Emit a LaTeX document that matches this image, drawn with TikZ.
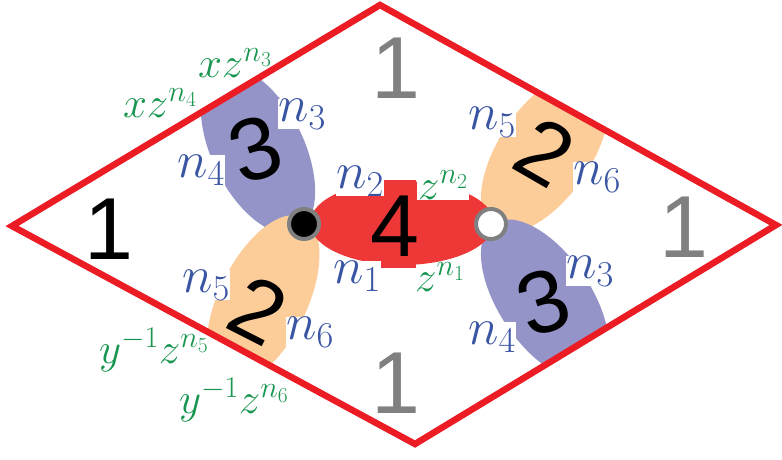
\RequirePackage{fix-cm}
\documentclass[tikz,border=0pt]{standalone}
\usepackage{amsmath}
\usepackage{fontspec}
\newfontfamily\digitfont{Liberation Sans}
\usepackage{tikz}

\definecolor{edgered}{RGB}{236,28,36}
\definecolor{cellred}{RGB}{238,56,56}
\definecolor{cellpurple}{RGB}{148,148,200}
\definecolor{cellorange}{RGB}{253,205,153}
\definecolor{nblue}{RGB}{58,85,164}
\definecolor{zgreen}{RGB}{24,150,80}

\begin{document}
\begin{tikzpicture}[x=1pt,y=-1pt,
  digit/.style={font=\digitfont\fontsize{88}{88}\selectfont, inner sep=0pt},
  nlab/.style={text=nblue, fill=white, inner sep=0pt, font=\fontsize{52}{52}\selectfont},
  zlab/.style={text=zgreen, inner sep=1pt, font=\fontsize{43}{43}\selectfont},
  vertex/.style={circle, draw=gray, line width=4pt, minimum size=30pt, inner sep=0pt}]

\useasboundingbox (0,0) rectangle (782,459);

\coordinate (W) at (12,226);
\coordinate (N) at (380,5);
\coordinate (E) at (776,225);
\coordinate (S) at (415,444);

\begin{scope}
\clip (W) -- (N) -- (E) -- (S) -- cycle;
\fill[cellpurple, rotate around={26:(258,150)}] (258,150) ellipse [x radius=46pt, y radius=90pt];
\fill[cellorange, rotate around={-26:(263,300)}] (263,300) ellipse [x radius=44pt, y radius=92pt];
\fill[cellorange, rotate around={-34:(545,152)}] (545,152) ellipse [x radius=46pt, y radius=92pt];
\fill[cellpurple, rotate around={34:(545,300)}] (545,300) ellipse [x radius=46pt, y radius=92pt];
\end{scope}

\fill[cellred] (402,223) ellipse [x radius=92pt, y radius=42pt];
\fill[cellred] (378,180) rectangle (416,268);

\draw[edgered, line width=6.5pt] (W) -- (N) -- (E) -- (S) -- cycle;

\node[digit, text=gray] (oneN) at (396,68) {1};
\node[digit] (oneW) at (109,229) {1};
\node[digit, text=gray] (oneE) at (684,227) {1};
\node[digit, text=gray] (oneS) at (396,383) {1};
\node[digit, rotate=18] (threeL) at (255,149) {3};
\node[digit, rotate=-27] (twoL) at (258,310) {2};
\node[digit] (four) at (395,226) {4};
\node[digit, rotate=-30] (twoR) at (545,152) {2};
\node[digit, rotate=18] (threeR) at (543,302) {3};

\node[vertex, fill=black] (bdot) at (304,224) {};
\node[vertex, fill=white] (wdot) at (491,224) {};

\node[nlab] (nthreeL) at (302,114) {$n_3$};
\node[nlab] (nfourL) at (201,170) {$n_4$};
\node[nlab] (ntwo) at (360,181) {$n_2$};
\node[nlab] (none) at (357,276) {$n_1$};
\node[nlab] (nfiveL) at (206,285) {$n_5$};
\node[nlab] (nsixL) at (310,332) {$n_6$};
\node[nlab] (nfiveR) at (492,122) {$n_5$};
\node[nlab] (nsixR) at (597,177) {$n_6$};
\node[nlab] (nthreeR) at (590,271) {$n_3$};
\node[nlab] (nfourR) at (492,337) {$n_4$};

\node[zlab] (zthree) at (235,63) {$xz^{n_3}$};
\node[zlab] (zfour) at (160,103) {$xz^{n_4}$};
\node[zlab, fill=white] (ztwo) at (443,185) {$z^{n_2}$};
\node[zlab] (zone) at (440,277) {$z^{n_1}$};
\node[zlab] (zfive) at (154,350) {$y^{-1}z^{n_5}$};
\node[zlab] (zsix) at (234,400) {$y^{-1}z^{n_6}$};

\end{tikzpicture}
\end{document}
